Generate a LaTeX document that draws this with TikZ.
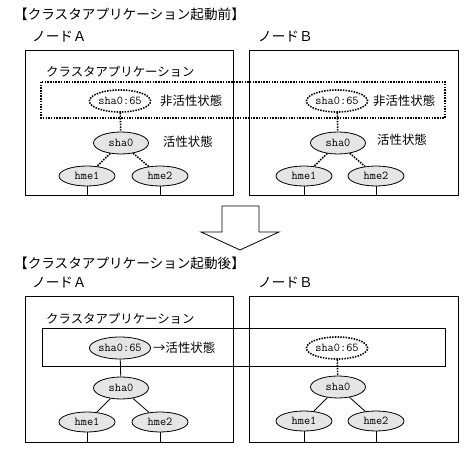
\documentclass[tikz,border=0pt]{standalone}
\usepackage{fontspec}
\usetikzlibrary{shapes.geometric}
\newfontfamily\jp{Noto Sans CJK JP}
\tikzset{
  jplabel/.style={font=\jp\fontsize{12.4}{12.4}\selectfont, anchor=west, inner sep=0pt},
  titlelabel/.style={font=\jp\fontsize{13.6}{13.6}\selectfont, anchor=west, inner sep=0pt},
  nodebox/.style={draw, line width=0.8pt},
  dotbox/.style={draw, line width=1.6pt, dash pattern=on 1.5pt off 1.2pt},
  solidbox/.style={draw, line width=0.8pt},
  ell/.style={ellipse, draw, line width=0.8pt, fill=black!10, inner sep=0pt, font=\ttfamily\fontsize{12}{12}\selectfont},
  dotell/.style={ellipse, draw, line width=1.6pt, dash pattern=on 1.5pt off 1.2pt, fill=white, inner sep=0pt, font=\ttfamily\fontsize{12}{12}\selectfont},
  ip/.style={minimum width=50pt, minimum height=22pt},
  sha/.style={minimum width=55pt, minimum height=22pt},
  hme/.style={minimum width=56pt, minimum height=20pt},
  dotlink/.style={line width=1.6pt, dash pattern=on 1.5pt off 1.2pt},
  thinlink/.style={line width=0.8pt},
  blockarrow/.style={draw, line width=0.8pt, fill=white}
}
\begin{document}
\begin{tikzpicture}[x=1pt,y=-1pt]
\useasboundingbox (0,0) rectangle (467,449);

% ================= TOP =================
\node[titlelabel] (t1) at (14,14) {【クラスタアプリケーション起動前】};
\node[titlelabel] (na1) at (32,37) {ノードＡ};
\node[titlelabel] (nb1) at (258,37) {ノードＢ};
\draw[nodebox] (25,50) rectangle (233,195);
\coordinate (boxA1b) at (0,195);
\draw[nodebox] (249,50) rectangle (458,195);
\node[jplabel] (ca1) at (46,72) {クラスタアプリケーション};
\draw[dotbox] (41,82) rectangle (445,118);

\node[dotell, ip] (ipA1) at (120,101) {sha0:65};
\node[jplabel] (inA1) at (160,101) {非活性状態};
\node[dotell, ip] (ipB1) at (337,101) {sha0:65};
\node[jplabel] (inB1) at (373,101) {非活性状態};

\node[ell, sha] (shA1) at (121,143) {sha0};
\node[jplabel] (acA1) at (163,142) {活性状態};
\node[ell, sha] (shB1) at (338,143) {sha0};
\node[jplabel] (acB1) at (377,140) {活性状態};

\node[ell, hme] (h1A1) at (87,176) {hme1};
\node[ell, hme] (h2A1) at (160,176) {hme2};
\node[ell, hme] (h1B1) at (304,176) {hme1};
\node[ell, hme] (h2B1) at (376,176) {hme2};

\draw[dotlink] (ipA1) -- (shA1);
\draw[dotlink] (ipB1) -- (shB1);
\draw[dotlink] (shA1) -- (h1A1);
\draw[dotlink] (shA1) -- (h2A1);
\draw[dotlink] (shB1) -- (h1B1);
\draw[dotlink] (shB1) -- (h2B1);
\draw[thinlink] (h1A1.south) -- (h1A1.south |- boxA1b);
\draw[thinlink] (h2A1.south) -- (h2A1.south |- boxA1b);
\draw[thinlink] (h1B1.south) -- (h1B1.south |- boxA1b);
\draw[thinlink] (h2B1.south) -- (h2B1.south |- boxA1b);

% ================= ARROW =================
\draw[blockarrow] (222,206) -- (259,206) -- (259,232) -- (279,232) -- (240,250) -- (201,232) -- (222,232) -- cycle;

% ================= BOTTOM =================
\node[titlelabel] (t2) at (14,263) {【クラスタアプリケーション起動後】};
\node[titlelabel] (na2) at (32,283) {ノードＡ};
\node[titlelabel] (nb2) at (258,283) {ノードＢ};
\draw[nodebox] (25,296) rectangle (233,442);
\coordinate (boxA2b) at (0,442);
\draw[nodebox] (249,296) rectangle (458,442);
\node[jplabel] (ca2) at (46,319) {クラスタアプリケーション};
\draw[solidbox] (42,328) rectangle (445,366);

\node[ell, ip] (ipA2) at (120,348) {sha0:65};
\node[jplabel] (acA2) at (153,348) {→活性状態};
\node[dotell, ip] (ipB2) at (337,348) {sha0:65};

\node[ell, sha] (shA2) at (121,388) {sha0};
\node[ell, sha] (shB2) at (338,387) {sha0};

\node[ell, hme] (h1A2) at (87,422) {hme1};
\node[ell, hme] (h2A2) at (160,422) {hme2};
\node[ell, hme] (h1B2) at (304,421) {hme1};
\node[ell, hme] (h2B2) at (376,421) {hme2};

\draw[thinlink] (ipA2) -- (shA2);
\draw[dotlink] (ipB2) -- (shB2);
\draw[thinlink] (shA2) -- (h1A2);
\draw[thinlink] (shA2) -- (h2A2);
\draw[thinlink] (shB2) -- (h1B2);
\draw[thinlink] (shB2) -- (h2B2);
\draw[thinlink] (h1A2.south) -- (h1A2.south |- boxA2b);
\draw[thinlink] (h2A2.south) -- (h2A2.south |- boxA2b);
\draw[thinlink] (h1B2.south) -- (h1B2.south |- boxA2b);
\draw[thinlink] (h2B2.south) -- (h2B2.south |- boxA2b);
\end{tikzpicture}
\end{document}
